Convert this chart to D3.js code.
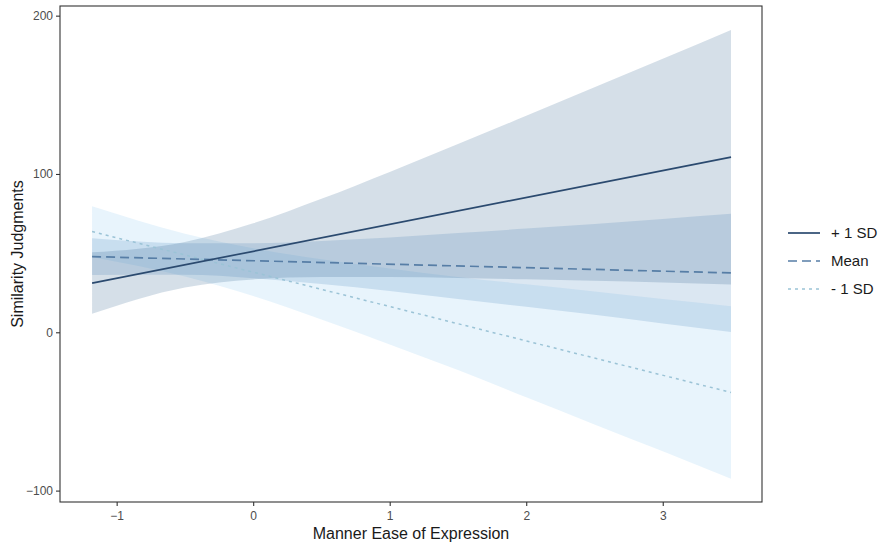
<!DOCTYPE html>
<html>
<head>
<meta charset="utf-8">
<script src="https://cdn.jsdelivr.net/npm/d3@7"></script>
<style>
  body { margin: 0; background: #fff; }
  svg { display: block; font-family: "Liberation Sans", Arial, sans-serif; }
</style>
</head>
<body>
<svg id="chart" width="887" height="543"></svg>
<script>
const xs = [-1.18, -0.5, 0, 0.5, 1, 1.5, 2, 2.5, 3, 3.5];

// +1 SD
const plusLower = [11.7, 28.3, 33.4, 34.9, 34.9, 34.3, 33.5, 32.5, 31.4, 30.2];
const plusUpper = [50.5, 57.1, 68.8, 84.3, 101.3, 118.9, 136.7, 154.7, 172.8, 191.0];
const plusLine = [31.1, 110.6];

// Mean
const meanLower = [36.2, 36.3, 34.2, 30.5, 26.1, 21.1, 16.1, 11.0, 5.6, 0.2];
const meanUpper = [59.4, 56.3, 56.2, 57.7, 59.9, 62.7, 65.5, 68.4, 71.6, 74.8];
const meanLine = [47.8, 37.5];

// -1 SD
const minusLower = [47.6, 35.3, 22.9, 8.1, -7.7, -23.9, -41.1, -58.2, -75.2, -92.5];
const minusUpper = [79.6, 62.3, 53.1, 46.1, 40.3, 34.9, 30.3, 25.8, 21.0, 16.5];
const minusLine = [63.6, -38.0];

const lineX = [-1.18, 3.5];

const xTicks = [-1, 0, 1, 2, 3];
const yTicks = [-100, 0, 100, 200];
const legendLabels = ["+ 1 SD", "Mean", "- 1 SD"];

const svg = d3.select("#chart");
const panel = { left: 60, right: 762, top: 6, bottom: 502 };

const x = d3.scaleLinear().domain([-1.415, 3.727]).range([panel.left, panel.right]);
const y = d3.scaleLinear().domain([-107.2, 206.1]).range([panel.bottom, panel.top]);

const series = [
  { name: legendLabels[2], lower: minusLower, upper: minusUpper, line: minusLine,
    fill: "#8cc8f0", stroke: "#9bc3d6", dash: "3,4", width: 1.5 },
  { name: legendLabels[1], lower: meanLower, upper: meanUpper, line: meanLine,
    fill: "#4a86c0", stroke: "#577ea6", dash: "9,5", width: 1.7 },
  { name: legendLabels[0], lower: plusLower, upper: plusUpper, line: plusLine,
    fill: "#2f5d8c", stroke: "#2b4a6f", dash: null, width: 1.7 },
];

const area = d3.area()
  .x((d) => x(d.x))
  .y0((d) => y(d.lo))
  .y1((d) => y(d.hi))
  .curve(d3.curveMonotoneX);

const line = d3.line()
  .x((d) => x(d.x))
  .y((d) => y(d.v));

// ribbons
series.forEach((s) => {
  const pts = xs.map((v, i) => ({ x: v, lo: s.lower[i], hi: s.upper[i] }));
  svg.append("path")
    .datum(pts)
    .attr("fill", s.fill)
    .attr("fill-opacity", 0.2)
    .attr("d", area);
});

// lines
series.forEach((s) => {
  const pts = lineX.map((v, i) => ({ x: v, v: s.line[i] }));
  svg.append("path")
    .datum(pts)
    .attr("fill", "none")
    .attr("stroke", s.stroke)
    .attr("stroke-width", s.width)
    .attr("stroke-dasharray", s.dash)
    .attr("d", line);
});

// panel border
svg.append("rect")
  .attr("x", panel.left)
  .attr("y", panel.top)
  .attr("width", panel.right - panel.left)
  .attr("height", panel.bottom - panel.top)
  .attr("fill", "none")
  .attr("stroke", "#333")
  .attr("stroke-width", 1.1);

// axes
const fmt = (d) => (d < 0 ? "\u2212" + Math.abs(d) : String(d));

const xAxis = svg.append("g")
  .attr("transform", `translate(0,${panel.bottom})`)
  .call(d3.axisBottom(x).tickValues(xTicks).tickFormat(fmt).tickSize(4).tickPadding(5));
const yAxis = svg.append("g")
  .attr("transform", `translate(${panel.left},0)`)
  .call(d3.axisLeft(y).tickValues(yTicks).tickFormat(fmt).tickSize(4).tickPadding(3));

[xAxis, yAxis].forEach((g) => {
  g.select(".domain").remove();
  g.selectAll(".tick line").attr("stroke", "#333").attr("stroke-width", 1.1);
  g.selectAll(".tick text")
    .attr("fill", "#4d4d4d")
    .style("font-size", "12px")
    .style("font-family", "'Liberation Sans', Arial, sans-serif");
});

// axis titles
svg.append("text")
  .attr("x", (panel.left + panel.right) / 2)
  .attr("y", 539)
  .attr("text-anchor", "middle")
  .attr("fill", "#1a1a1a")
  .style("font-size", "16px")
  .text("Manner Ease of Expression");

svg.append("text")
  .attr("transform", `translate(23,${(panel.top + panel.bottom) / 2}) rotate(-90)`)
  .attr("text-anchor", "middle")
  .attr("fill", "#1a1a1a")
  .style("font-size", "16px")
  .text("Similarity Judgments");

// legend
const legendSeries = [series[2], series[1], series[0]];
const legend = svg.append("g").attr("transform", "translate(788,233)");
legendSeries.forEach((s, i) => {
  const row = legend.append("g").attr("transform", `translate(0,${i * 28})`);
  row.append("line")
    .attr("x1", 0).attr("x2", 32)
    .attr("y1", 0).attr("y2", 0)
    .attr("stroke", s.stroke)
    .attr("stroke-width", s.width)
    .attr("stroke-dasharray", s.dash);
  row.append("text")
    .attr("x", 43)
    .attr("y", 5)
    .attr("fill", "#1a1a1a")
    .style("font-size", "15px")
    .text(s.name);
});
</script>
</body>
</html>
